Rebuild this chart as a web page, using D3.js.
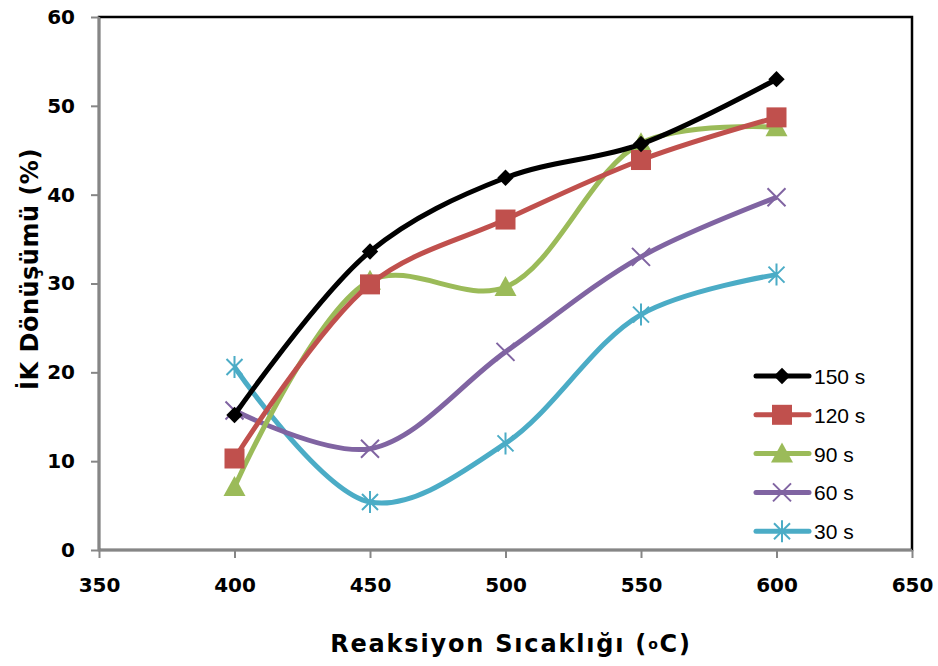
<!DOCTYPE html>
<html>
<head>
<meta charset="utf-8">
<script src="https://cdn.jsdelivr.net/npm/d3@7"></script>
<style>
  body { margin: 0; background: #fff; }
  svg { display: block; }
</style>
</head>
<body>
<svg id="chart" width="938" height="666"></svg>
<script>
// data
var temps = [400, 450, 500, 550, 600];
var s150 = [15.2, 33.6, 41.9, 45.7, 53.0];
var s120 = [10.3, 29.9, 37.2, 43.9, 48.7];
var s90 = [7.1, 30.3, 29.6, 45.8, 47.6];
var s60 = [15.7, 11.4, 22.3, 33.0, 39.7];
var s30 = [20.6, 5.4, 12.0, 26.5, 31.0];
var seriesNames = ["150 s", "120 s", "90 s", "60 s", "30 s"];
var xTicks = [350, 400, 450, 500, 550, 600, 650];
var yTicks = [0, 10, 20, 30, 40, 50, 60];

var colors = ["#000000", "#C0504D", "#9BBB59", "#8064A2", "#4BACC6"];
var markers = ["diamond", "square", "triangle", "x", "star"];
var allSeries = [s150, s120, s90, s60, s30].map(function(vals, i) {
  return { name: seriesNames[i], color: colors[i], marker: markers[i],
    points: vals.map(function(v, j) { return { x: temps[j], y: v }; }) };
});

var pLeft = 99, pTop = 17, pRight = 912, pBottom = 550;
var svg = d3.select("#chart");

var x = d3.scaleLinear().domain([350, 650]).range([pLeft, pRight]);
var y = d3.scaleLinear().domain([0, 60]).range([pBottom, pTop]);

// plot border
svg.append("rect")
  .attr("x", pLeft).attr("y", pTop)
  .attr("width", pRight - pLeft).attr("height", pBottom - pTop)
  .attr("fill", "none").attr("stroke", "#000").attr("stroke-width", 2.5);

// axes
var yAxis = svg.append("g").attr("transform", "translate(" + pLeft + ",0)")
  .call(d3.axisLeft(y).tickValues(yTicks).tickSize(8).tickPadding(16));
var xAxis = svg.append("g").attr("transform", "translate(0," + pBottom + ")")
  .call(d3.axisBottom(x).tickValues(xTicks).tickSize(8).tickPadding(20));

[yAxis, xAxis].forEach(function(ax) {
  ax.select(".domain").attr("stroke", "#868686").attr("stroke-width", 2.5);
  ax.selectAll(".tick line").attr("stroke", "#868686").attr("stroke-width", 2);
  ax.selectAll("text")
    .attr("fill", "#000")
    .style("font-family", "'DejaVu Sans', Verdana, sans-serif")
    .style("font-weight", "bold")
    .style("font-size", "20px");
});
yAxis.select(".domain").attr("d", "M0," + pTop + "V" + pBottom);
xAxis.select(".domain").attr("d", "M" + pLeft + ",0H" + pRight);

// axis titles
svg.append("text")
  .attr("transform", "translate(38,269) rotate(-90)")
  .attr("text-anchor", "middle")
  .style("font-family", "'DejaVu Sans', Verdana, sans-serif")
  .style("font-weight", "bold").style("font-size", "24px")
  .style("letter-spacing", "0.5px")
  .text("İK Dönüşümü (%)");

var xt = svg.append("text")
  .attr("x", 511).attr("y", 652)
  .attr("text-anchor", "middle")
  .style("font-family", "'DejaVu Sans', Verdana, sans-serif")
  .style("font-weight", "bold").style("font-size", "24px")
  .style("letter-spacing", "1.8px");
xt.append("tspan").text("Reaksiyon Sıcaklığı (");
xt.append("tspan").style("font-size", "14px").attr("dy", -3).text("o");
xt.append("tspan").attr("dy", 3).text("C)");

// lines
var line = d3.line()
  .x(function(d) { return x(d.x); })
  .y(function(d) { return y(d.y); })
  .curve(d3.curveCatmullRom.alpha(0.5));

function drawMarker(g, type, color) {
  if (type === "diamond") {
    g.append("path").attr("d", d3.symbol().type(d3.symbolDiamond2).size(170)())
      .attr("fill", color);
  } else if (type === "square") {
    g.append("rect").attr("x", -10).attr("y", -10).attr("width", 20).attr("height", 20)
      .attr("fill", color);
  } else if (type === "triangle") {
    g.append("path").attr("d", "M0,-11L11,9L-11,9Z").attr("fill", color);
  } else if (type === "x") {
    g.append("path").attr("d", "M-9,-9L9,9M-9,9L9,-9")
      .attr("stroke", color).attr("stroke-width", 2).attr("fill", "none");
  } else if (type === "star") {
    g.append("path").attr("d", "M-8,-8L8,8M-8,8L8,-8M0,-11V11")
      .attr("stroke", color).attr("stroke-width", 2).attr("fill", "none");
  }
}

// draw in reverse order so 150 s is on top
allSeries.slice().reverse().forEach(function(s) {
  svg.append("path")
    .datum(s.points)
    .attr("d", line)
    .attr("fill", "none")
    .attr("stroke", s.color)
    .attr("stroke-width", 5)
    .attr("stroke-linejoin", "round");
  svg.selectAll(null)
    .data(s.points)
    .enter()
    .append("g")
    .attr("transform", function(d) { return "translate(" + x(d.x) + "," + y(d.y) + ")"; })
    .each(function() { drawMarker(d3.select(this), s.marker, s.color); });
});

// legend
var legend = svg.append("g");
allSeries.forEach(function(s, i) {
  var ly = 376 + i * 38.8;
  var g = legend.append("g").attr("transform", "translate(0," + ly + ")");
  g.append("line").attr("x1", 756).attr("x2", 809).attr("y1", 0).attr("y2", 0)
    .attr("stroke", s.color).attr("stroke-width", 5).attr("stroke-linecap", "round");
  var m = g.append("g").attr("transform", "translate(782,0)");
  drawMarker(m, s.marker, s.color);
  g.append("text").attr("x", 814).attr("y", 8)
    .style("font-family", "'Liberation Sans', Arial, sans-serif")
    .style("font-size", "21px").attr("fill", "#000")
    .text(s.name);
});
</script>
</body>
</html>
